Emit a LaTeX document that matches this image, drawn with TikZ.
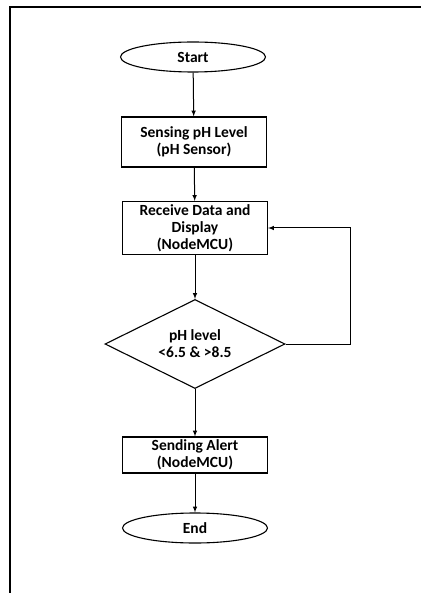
\documentclass[tikz,border=0pt]{standalone}
\usepackage{fontspec}
\setmainfont{Carlito}
\usetikzlibrary{shapes.geometric}
\begin{document}
\begin{tikzpicture}[x=1pt,y=-1pt,
  term/.style={draw, ellipse, line width=1.1pt, minimum width=145pt, minimum height=30pt, inner sep=0pt, font=\bfseries\fontsize{15.5}{17}\selectfont},
  proc/.style={draw, rectangle, line width=1.1pt, minimum width=145pt, inner sep=0pt, align=center, font=\bfseries\fontsize{15.5}{17}\selectfont},
  decide/.style={draw, diamond, line width=1.1pt, minimum width=180pt, minimum height=89pt, inner sep=-8pt, align=center, font=\bfseries\fontsize{15.5}{17}\selectfont},
  flow/.style={draw, line width=1pt, ->, >=latex}]
\useasboundingbox (0,0) rectangle (420,593);
\draw[line width=1.8pt] (10,593) -- (10,7) -- (421,7);

\node[term] (start) at (193,57) {Start};
\node[proc, minimum height=50pt] (sense) at (194,142) {Sensing pH Level\\(pH Sensor)};
\node[proc, minimum height=53pt] (recv) at (195,228) {Receive Data and\\Display\\(NodeMCU)};
\node[decide] (check) at (195,344) {pH level\\<6.5 \& >8.5};
\node[proc, minimum height=36pt] (alert) at (195,455) {Sending Alert\\(NodeMCU)};
\node[term] (end) at (195,528) {End};

\path[flow] (start) -- (sense);
\path[flow] (sense) -- (recv);
\path[flow] (recv) -- (check);
\path[flow] (check.east) -- ++(65,0) |- (recv.east);
\path[flow] (check) -- (alert);
\path[flow] (alert) -- (end);
\end{tikzpicture}
\end{document}
